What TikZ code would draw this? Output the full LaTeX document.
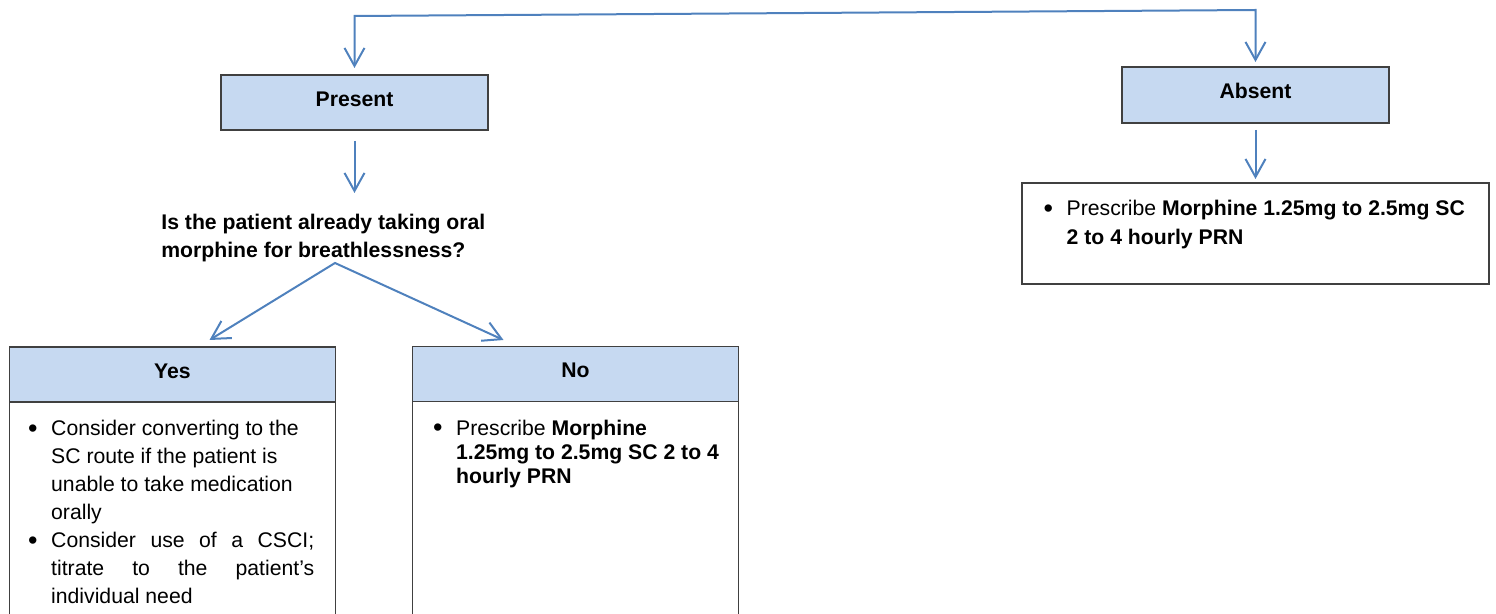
\documentclass[tikz,border=0pt]{standalone}
\usepackage{fontspec}
\setmainfont{Liberation Sans}
\usetikzlibrary{positioning,arrows.meta}

\definecolor{flowblue}{RGB}{79,129,189}
\definecolor{headblue}{RGB}{198,217,241}

\newcommand{\flowfont}{\fontsize{10.6}{14}\selectfont}

%% bullets as in the boxes
\newenvironment{bulletlist}{%
  \begin{list}{\raisebox{-0.8pt}{\fontsize{13.5}{13.5}\selectfont\textbullet}}{%
    \setlength{\leftmargin}{11pt}\setlength{\labelwidth}{11pt}%
    \setlength{\labelsep}{0pt}\setlength{\topsep}{0pt}%
    \setlength{\partopsep}{0pt}\setlength{\itemsep}{0pt}%
    \setlength{\parsep}{0pt}%
    \renewcommand{\makelabel}[1]{\hspace{-0.5pt}##1\hfil}}}%
  {\end{list}}

\tikzset{
  headbox/.style={draw=black!75, line width=0.6pt, fill=headblue,
    minimum width=163pt, minimum height=27.5pt, inner sep=0pt,
    outer sep=0pt, font=\flowfont\bfseries, text height=8pt, text depth=4pt},
  bodybox/.style={draw=black!75, line width=0.6pt, minimum width=163pt,
    inner sep=0pt, outer sep=0pt},
  bodytext/.style={inner sep=0pt, align=justify, text width=#1,
    font=\flowfont},
  flow/.style={draw=flowblue, line width=1pt, ->},
  >={Straight Barb[length=9pt,width=10pt]}
}

\begin{document}
\begin{tikzpicture}
  \useasboundingbox (0pt,0pt) rectangle (748pt,-307pt);

  %% top row
  \node[headbox, minimum width=133.5pt] (present) at (177.25pt,-51.25pt) {Present};
  \node[headbox, minimum width=133.5pt, minimum height=28pt] (absent)
  at (627.75pt,-47.5pt) {Absent};
  \node[bodybox, minimum width=233.5pt, minimum height=50.5pt,
  below=30pt of absent] (absbox) {};
  \node[bodytext=213pt, below right=1.6pt and 11.15pt of absbox.north west,
  font=\fontsize{10.6}{14.5}\selectfont] (abstext)
  {\begin{bulletlist}
   \item Prescribe \textbf{Morphine 1.25mg to 2.5mg SC}\newline
   \textbf{2 to 4 hourly PRN}
   \end{bulletlist}};

  %% question
  \node[inner sep=0pt, align=left, font=\flowfont\bfseries, anchor=north west]
  (question) at (80.5pt,-107pt)
  {Is the patient already taking oral\\morphine for breathlessness?};

  %% yes / no
  \node[headbox] (yeshead) at (86.25pt,-187.25pt) {Yes};
  \node[headbox] (nohead) at (287.75pt,-187pt) {No};
  \node[bodybox, minimum height=112pt, below=0pt of yeshead] (yesbox) {};
  \node[bodybox, minimum height=112pt, below=0pt of nohead] (nobox) {};
  \node[bodytext=142.5pt, below right=2.6pt and 9.65pt of yesbox.north west]
  (yestext)
  {\begin{bulletlist}
   \item Consider converting to the\newline SC route if the patient is\newline
   unable to take medication\newline orally
   \item Consider use of a CSCI;\linebreak titrate to the patient's\linebreak
   individual need
   \end{bulletlist}};
  \node[bodytext=146pt, below right=4.6pt and 10.65pt of nobox.north west,
  font=\fontsize{10.6}{12}\selectfont] (notext)
  {\begin{bulletlist}
   \item Prescribe \textbf{Morphine}\newline
   \textbf{1.25mg to 2.5mg SC 2 to 4}\newline \textbf{hourly PRN}
   \end{bulletlist}};

  %% connectors
  \coordinate (topleft) at (177.25pt,-8pt);
  \coordinate (topright) at (627.75pt,-5pt);
  \coordinate (fork) at (167.5pt,-131.5pt);
  \draw[flow, <->, shorten <=3.5pt, shorten >=2.5pt]
  (present) -- (topleft) -- (topright) -- (absent);
  \draw[flow, shorten <=5.5pt, shorten >=10.5pt]
  (present) -- (present |- question.north);
  \draw[flow, <->] ([xshift=100pt,yshift=3.5pt]yeshead.north west) -- (fork)
  -- ([xshift=45.5pt,yshift=3.25pt]nohead.north west);
  \draw[flow, shorten <=3.5pt, shorten >=2pt] (absent) -- (absbox);

\end{tikzpicture}
\end{document}
